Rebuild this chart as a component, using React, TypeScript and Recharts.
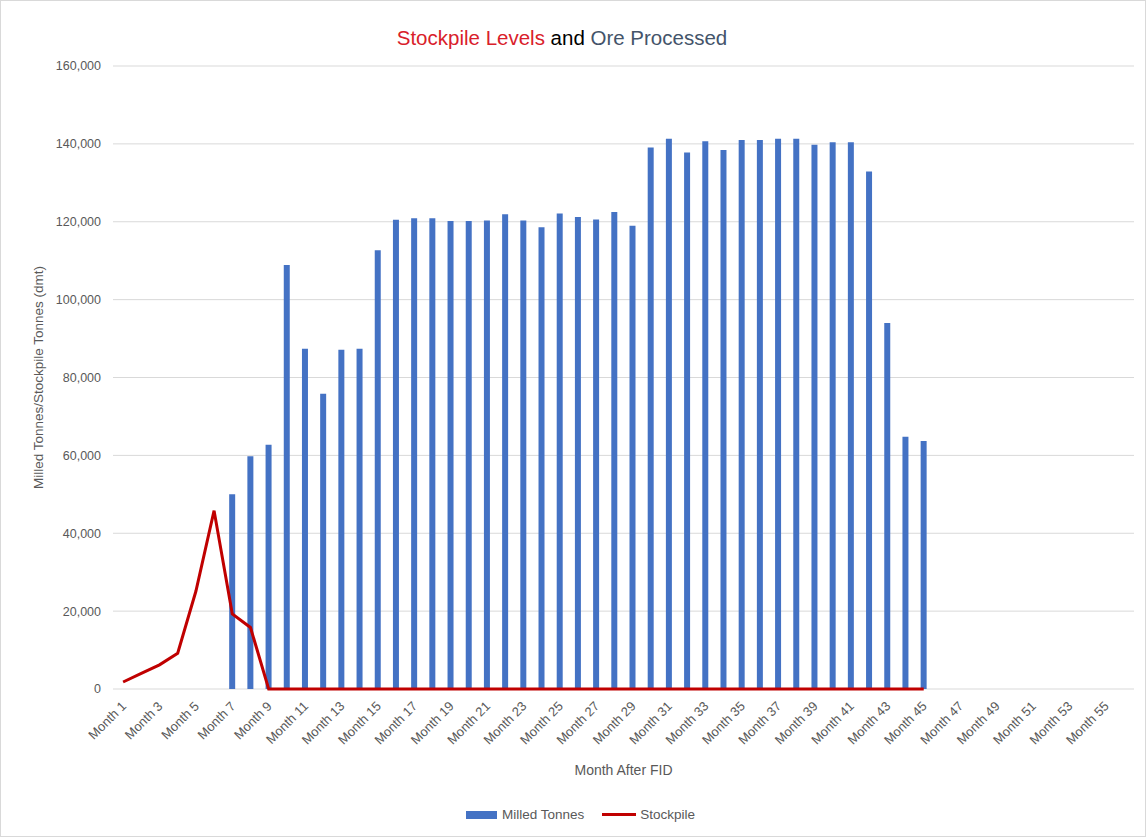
import { Bar, CartesianGrid, ComposedChart, Line, XAxis, YAxis } from "recharts";

const months = Array.from({ length: 56 }, (_, i) => `Month ${i + 1}`);

// Milled tonnes per month (dmt), null where nothing was milled
const milledTonnes: Array<number | null> = [
  null, null, null, null, null, null, 50000, 59800, 62700, 108900,
  87400, 75800, 87100, 87400, 112700, 120500, 120900, 120900, 120200, 120200,
  120300, 121900, 120300, 118600, 122100, 121200, 120600, 122500, 119000, 139100,
  141300, 137800, 140700, 138400, 141000, 141000, 141300, 141300, 139800, 140400,
  140400, 132900, 94000, 64800, 63700, null, null, null, null, null,
  null, null, null, null, null, null,
];

// Stockpile level at month end (dmt)
const stockpile: Array<number | null> = [
  1800, 4000, 6200, 9200, 25100, 45800, 19300, 15800, 0, 0,
  0, 0, 0, 0, 0, 0, 0, 0, 0, 0,
  0, 0, 0, 0, 0, 0, 0, 0, 0, 0,
  0, 0, 0, 0, 0, 0, 0, 0, 0, 0,
  0, 0, 0, 0, 0, null, null, null, null, null,
  null, null, null, null, null, null,
];

const yTicks = [0, 20000, 40000, 60000, 80000, 100000, 120000, 140000, 160000];

const data = months.map((name, i) => ({ name, milled: milledTonnes[i], stockpile: stockpile[i] }));

const FONT = "'Liberation Sans', Arial, sans-serif";
const GREY = "#595959";

function MonthTick({ x, y, payload }: any) {
  return (
    <text
      x={x + 4}
      y={y + 10}
      fill={GREY}
      fontSize={13}
      fontFamily={FONT}
      textAnchor="end"
      transform={`rotate(-45, ${x + 4}, ${y + 10})`}
    >
      {payload.value}
    </text>
  );
}

function YTitle({ viewBox }: any) {
  const cy = viewBox.y + viewBox.height / 2;
  return (
    <text
      x={43}
      y={cy}
      fill={GREY}
      fontSize={13.5}
      fontFamily={FONT}
      textAnchor="middle"
      transform={`rotate(-90, 43, ${cy})`}
    >
      Milled Tonnes/Stockpile Tonnes (dmt)
    </text>
  );
}

export default function App() {
  return (
    <div
      style={{
        position: "absolute",
        left: 0,
        top: 0,
        width: 1146,
        height: 837,
        boxSizing: "border-box",
        border: "1px solid #d9d9d9",
        background: "#fff",
        fontFamily: FONT,
      }}
    >
      <div
        style={{
          position: "absolute",
          left: 0,
          top: 25,
          width: 1122,
          textAlign: "center",
          fontSize: 20.5,
        }}
      >
        <span style={{ color: "#d9202a" }}>Stockpile Levels</span>
        <span style={{ color: "#000" }}> and </span>
        <span style={{ color: "#44546a" }}>Ore Processed</span>
      </div>
      <div style={{ position: "absolute", left: -1, top: -1 }}>
        <ComposedChart width={1146} height={837} data={data} margin={{ top: 66, right: 12, bottom: 58, left: 0 }}>
          <CartesianGrid stroke="#d9d9d9" vertical={false} />
          <XAxis
            dataKey="name"
            interval={1}
            height={90}
            padding={{ left: 1, right: 1 }}
            axisLine={false}
            tickLine={false}
            tick={<MonthTick />}
            label={{ value: "Month After FID", position: "insideBottom", offset: 4, fill: GREY, fontSize: 14, fontFamily: FONT }}
          />
          <YAxis
            width={113}
            domain={[0, 160000]}
            ticks={yTicks}
            axisLine={false}
            tickLine={false}
            tickMargin={6}
            tick={{ fill: GREY, fontSize: 12.5, fontFamily: FONT }}
            tickFormatter={(v) => Number(v).toLocaleString("en-US")}
            label={<YTitle />}
          />
          <Bar dataKey="milled" name="Milled Tonnes" fill="#4472c4" barSize={6} isAnimationActive={false} />
          <Line
            dataKey="stockpile"
            name="Stockpile"
            type="linear"
            stroke="#c00000"
            strokeWidth={3}
            dot={false}
            activeDot={false}
            isAnimationActive={false}
          />
        </ComposedChart>
      </div>
      <div
        style={{
          position: "absolute",
          left: 465,
          top: 806,
          display: "flex",
          alignItems: "center",
          fontSize: 13.5,
          color: GREY,
        }}
      >
        <span style={{ display: "inline-block", width: 31, height: 8, background: "#4472c4", marginRight: 5 }} />
        <span>Milled Tonnes</span>
        <span style={{ display: "inline-block", width: 34, height: 3, background: "#c00000", marginLeft: 18, marginRight: 4 }} />
        <span>Stockpile</span>
      </div>
    </div>
  );
}
